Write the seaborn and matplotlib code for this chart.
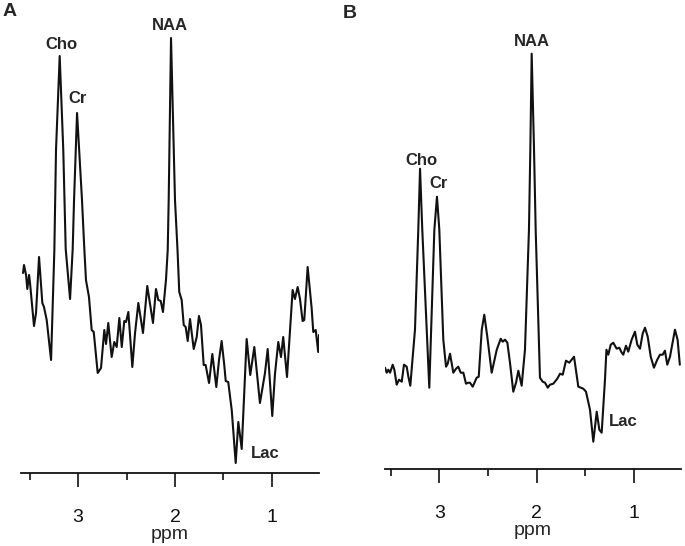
import matplotlib
matplotlib.use("Agg")
import matplotlib.pyplot as plt
import seaborn as sns
import pandas as pd
from matplotlib.ticker import FixedLocator

# Panel A spectrum (ppm, arbitrary signal units)
ppm_a = [3.567, 3.557, 3.536, 3.523, 3.505, 3.495, 3.454, 3.433, 3.402, 3.368,
         3.351, 3.323, 3.278, 3.244, 3.227, 3.189, 3.152, 3.127, 3.082, 3.055,
         3.041, 3.010, 2.959, 2.935, 2.918, 2.887, 2.859, 2.838, 2.797, 2.763,
         2.729, 2.711, 2.688, 2.653, 2.626, 2.601, 2.574, 2.549, 2.523, 2.505,
         2.481, 2.440, 2.412, 2.378, 2.330, 2.286, 2.227, 2.196, 2.172, 2.147,
         2.124, 2.093, 2.075, 2.065, 2.041, 2.000, 1.974, 1.956, 1.931, 1.910,
         1.890, 1.869, 1.845, 1.807, 1.776, 1.753, 1.732, 1.704, 1.684, 1.649,
         1.615, 1.574, 1.546, 1.519, 1.492, 1.477, 1.451, 1.415, 1.374, 1.347,
         1.312, 1.261, 1.224, 1.182, 1.124, 1.072, 1.044, 0.997, 0.969, 0.935,
         0.907, 0.884, 0.845, 0.787, 0.763, 0.735, 0.711, 0.684, 0.667, 0.632,
         0.591, 0.574, 0.549, 0.523, 0.515]
sig_a = [2.00, 2.08, 1.98, 1.84, 1.98, 1.90, 1.47, 1.60, 2.16, 1.70,
         1.66, 1.53, 1.13, 2.23, 3.23, 4.17, 3.23, 2.24, 1.74, 2.24,
         2.73, 3.60, 2.73, 2.24, 1.93, 1.76, 1.43, 1.41, 1.00, 1.05,
         1.43, 1.29, 1.50, 1.16, 1.31, 1.26, 1.55, 1.26, 1.52, 1.51,
         1.61, 1.06, 1.40, 1.70, 1.40, 1.87, 1.50, 1.84, 1.73, 1.72,
         1.61, 1.93, 2.23, 2.73, 4.35, 2.73, 2.23, 1.81, 1.73, 1.48,
         1.46, 1.32, 1.54, 1.24, 1.36, 1.57, 1.48, 1.08, 1.08, 0.90,
         1.19, 0.86, 1.13, 1.32, 1.08, 0.92, 0.91, 0.63, 0.10, 0.51,
         0.24, 1.34, 0.98, 1.26, 0.70, 1.00, 1.24, 0.57, 0.99, 1.31,
         1.16, 1.36, 0.96, 1.83, 1.74, 1.86, 1.74, 1.52, 1.53, 2.06,
         1.65, 1.41, 1.43, 1.21, 1.38]

# Panel B spectrum
ppm_b = [3.558, 3.540, 3.524, 3.506, 3.479, 3.462, 3.438, 3.414, 3.386, 3.363,
         3.335, 3.318, 3.298, 3.250, 3.216, 3.198, 3.175, 3.103, 3.051, 3.024,
         3.000, 2.959, 2.931, 2.914, 2.890, 2.856, 2.828, 2.805, 2.780, 2.753,
         2.726, 2.702, 2.685, 2.657, 2.616, 2.595, 2.564, 2.538, 2.507, 2.462,
         2.410, 2.369, 2.349, 2.325, 2.301, 2.274, 2.240, 2.212, 2.188, 2.154,
         2.120, 2.079, 2.065, 2.051, 2.027, 2.010, 1.966, 1.938, 1.914, 1.886,
         1.863, 1.829, 1.788, 1.760, 1.732, 1.699, 1.665, 1.616, 1.572, 1.521,
         1.493, 1.452, 1.418, 1.383, 1.356, 1.332, 1.298, 1.283, 1.264, 1.239,
         1.213, 1.178, 1.151, 1.126, 1.110, 1.082, 1.059, 1.024, 0.990, 0.966,
         0.938, 0.911, 0.887, 0.859, 0.828, 0.795, 0.761, 0.733, 0.705, 0.682,
         0.658, 0.630, 0.579, 0.552, 0.529]
sig_b = [1.01, 0.96, 0.99, 0.96, 1.04, 0.99, 0.84, 0.89, 0.87, 1.04,
         1.02, 0.92, 0.83, 1.39, 2.39, 3.00, 2.39, 0.81, 2.39, 2.72,
         2.39, 1.29, 1.02, 1.05, 1.15, 0.96, 1.00, 1.02, 0.96, 0.96,
         0.85, 0.86, 0.86, 0.82, 0.91, 0.92, 1.39, 1.54, 1.32, 0.96,
         1.19, 1.30, 1.27, 1.29, 1.26, 1.06, 0.77, 0.86, 0.98, 0.83,
         1.19, 2.39, 3.19, 4.15, 3.19, 2.39, 0.91, 0.87, 0.86, 0.81,
         0.84, 0.85, 0.90, 0.95, 0.94, 1.08, 1.06, 1.12, 0.82, 0.80,
         0.77, 0.59, 0.27, 0.57, 0.39, 0.36, 0.89, 1.19, 1.14, 1.24,
         1.26, 1.20, 1.21, 1.16, 1.14, 1.23, 1.17, 1.29, 1.37, 1.24,
         1.20, 1.35, 1.41, 1.32, 1.12, 1.01, 1.09, 1.14, 1.14, 1.18,
         1.04, 1.12, 1.39, 1.29, 1.04]

# peak labels: (text, ppm, signal)
labels_a = [("Cho", 3.175, 4.29), ("Cr", 3.00, 3.75), ("NAA", 2.052, 4.48), ("Lac", 1.072, 0.20)]
labels_b = [("Cho", 3.188, 3.08), ("Cr", 3.003, 2.85), ("NAA", 2.048, 4.27), ("Lac", 1.113, 0.47)]

major_ticks = [3, 2, 1]
minor_ticks = [3.5, 2.5, 1.5]

sns.set_style("white")
plt.rcParams['font.family'] = ['Liberation Sans', 'DejaVu Sans']

fig = plt.figure(figsize=(6.85, 5.46), dpi=100)
ax_a = fig.add_axes([21 / 685, 73 / 546, 298 / 685, 473 / 546])
ax_b = fig.add_axes([385 / 685, 77.3 / 546, 296 / 685, 468.7 / 546])

panels = [
    (ax_a, ppm_a, sig_a, labels_a, (3.588, 0.515), 4.73),
    (ax_b, ppm_b, sig_b, labels_b, (3.558, 0.517), 4.687),
]

for ax, ppm, sig, labels, xlim, ytop in panels:
    df = pd.DataFrame({'ppm': ppm, 'signal': sig})
    sns.lineplot(data=df, x='ppm', y='signal', ax=ax, color='#111111',
                 linewidth=1.5, sort=False, estimator=None)
    ax.set_xlim(*xlim)
    ax.set_ylim(0, ytop)
    for side in ['left', 'right', 'top']:
        ax.spines[side].set_visible(False)
    ax.spines['bottom'].set_linewidth(1.3)
    ax.spines['bottom'].set_color('#111111')
    ax.set_yticks([])
    ax.xaxis.set_major_locator(FixedLocator(major_ticks))
    ax.xaxis.set_minor_locator(FixedLocator(minor_ticks))
    ax.set_xticklabels([str(t) for t in major_ticks])
    ax.tick_params(axis='x', which='major', direction='out', length=10, width=1.2,
                   pad=16, labelsize=14, bottom=True, colors='#111111')
    ax.tick_params(axis='x', which='minor', direction='out', length=5, width=1.2,
                   bottom=True, colors='#111111')
    ax.set_xlabel('ppm', fontsize=14, labelpad=0)
    ax.set_ylabel('')
    ax.patch.set_alpha(0)
    for txt, x, y in labels:
        ax.text(x, y, txt, ha='center', va='center', fontsize=12,
                fontweight='bold', clip_on=False)

fig.text(10 / 685, 1 - 11 / 546, 'A', ha='center', va='center', fontsize=14, fontweight='bold')
fig.text(350 / 685, 1 - 13 / 546, 'B', ha='center', va='center', fontsize=14, fontweight='bold')

fig.savefig('out.png', dpi=100)
